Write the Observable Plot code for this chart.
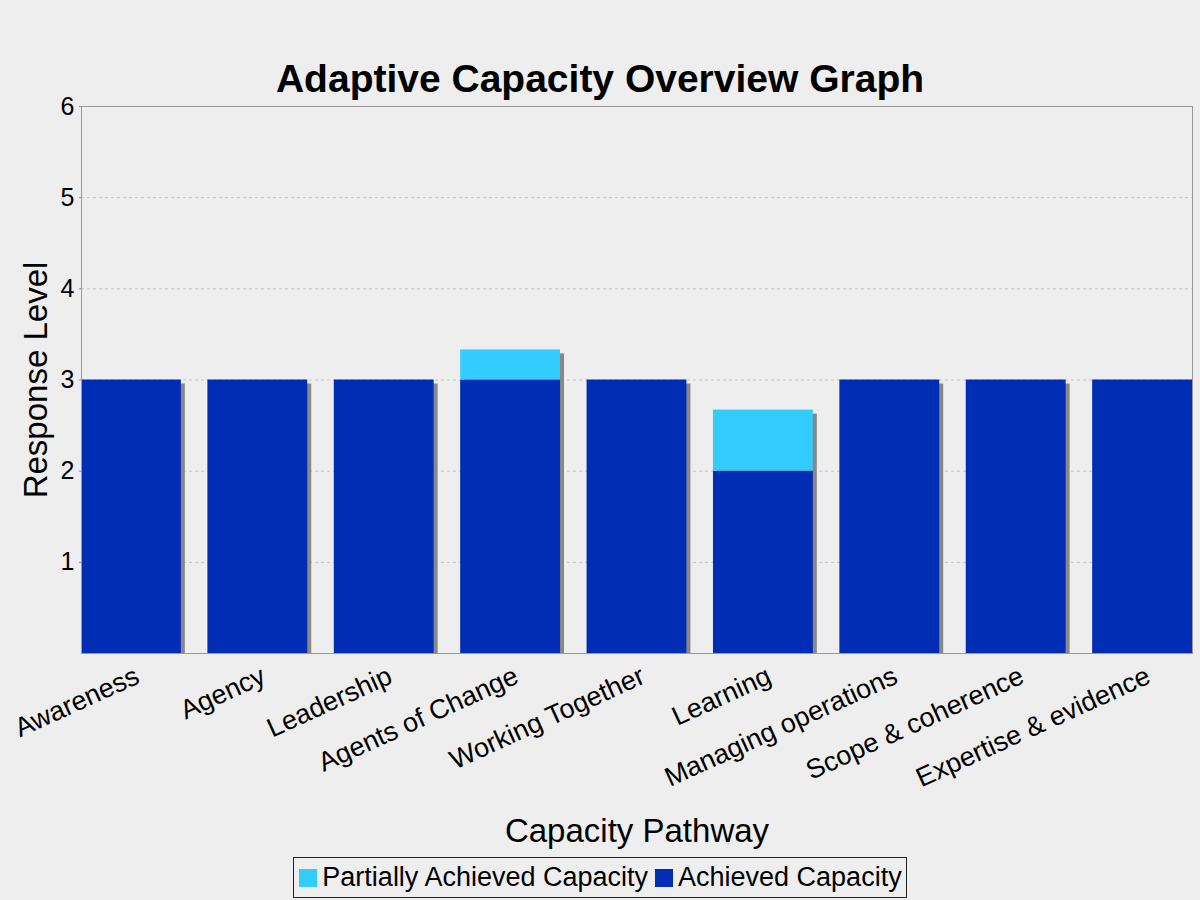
<!DOCTYPE html>
<html>
<head>
<meta charset="utf-8">
<script src="https://cdn.jsdelivr.net/npm/d3@7"></script>
<script src="https://cdn.jsdelivr.net/npm/@observablehq/plot@0.6"></script>
<style>
  html, body { margin: 0; padding: 0; background: #eeeeee; }
  body { font-family: "Liberation Sans", Arial, sans-serif; }
  #wrap { position: relative; width: 1200px; height: 900px; overflow: hidden; }
  #title { position: absolute; left: 0; top: 59px; width: 1200px; text-align: center; z-index: 2;
           font-weight: bold; font-size: 39px; line-height: 39px; color: #000; }
  #chart { position: absolute; left: 0; top: 90px; z-index: 1; }
  #legendRow { position: absolute; left: 0; top: 857px; width: 1200px; text-align: center; }
  #legend { display: inline-flex; align-items: center; border: 1px solid #222;
            height: 39px; padding: 0 4px 0 5px; font-size: 27px; color: #000; background: #eeeeee; }
  .item { display: inline-flex; align-items: center; white-space: nowrap; }
  .item + .item { margin-left: 7px; }
  .sw { display: inline-block; width: 18px; height: 18px; margin-right: 5px; }
</style>
</head>
<body>
<div id="wrap">
  <div id="title"></div>
  <div id="chart"></div>
  <div id="legendRow"><div id="legend"></div></div>
</div>
<script>
// ---- data ----
const titleText = "Adaptive Capacity Overview Graph";
const xLabel = "Capacity Pathway";
const yLabel = "Response Level";
const categories = ["Awareness", "Agency", "Leadership", "Agents of Change", "Working Together",
                    "Learning", "Managing operations", "Scope & coherence", "Expertise & evidence"];
const achieved = [3, 3, 3, 3, 3, 2, 3, 3, 3];
const partial  = [0, 0, 0, 0.33, 0, 0.67, 0, 0, 0];
const seriesNames = ["Partially Achieved Capacity", "Achieved Capacity"];
const seriesColors = ["#33ccff", "#002db4"];
const yTicks = [1, 2, 3, 4, 5, 6];
const gridTicks = [1, 2, 3, 4, 5];

// ---- tables ----
const rows = [];
categories.forEach((c, i) => rows.push({cat: c, series: seriesNames[1], value: achieved[i]}));
categories.forEach((c, i) => rows.push({cat: c, series: seriesNames[0], value: partial[i]}));
const totals = categories.map((c, i) => ({cat: c, total: achieved[i] + partial[i]}));

document.getElementById("title").textContent = titleText;

const chart = Plot.plot({
  width: 1200,
  height: 760,
  marginTop: 16,
  marginBottom: 197,
  marginLeft: 81,
  marginRight: 8,
  style: { fontFamily: "'Liberation Sans', Arial, sans-serif", background: "transparent", color: "#000" },
  x: { type: "band", domain: categories, paddingInner: 0.21, paddingOuter: 0, round: false, label: null },
  y: { domain: [0, 6], label: null },
  color: { domain: seriesNames, range: seriesColors },
  marks: [
    Plot.gridY(gridTicks, { stroke: "#c4c4c4", strokeOpacity: 1, strokeDasharray: "3,3" }),
    Plot.barY(totals, { x: "cat", y: "total", fill: "#888888", dx: 4, dy: 4, clip: true }),
    Plot.barY(rows, { x: "cat", y: "value", fill: "series" }),
    Plot.frame({ stroke: "#999999" }),
    Plot.axisY(yTicks, { tickSize: 2, tickPadding: 5, fontSize: 25, stroke: "#888888", tickFormat: d => String(d), label: null }),
    Plot.axisX({ tickRotate: -24.5, tickSize: 0, tickPadding: 21, dx: 6, fontSize: 27, label: null }),
    Plot.text([xLabel], { frameAnchor: "bottom", dy: 188, fontSize: 33, fill: "#000" }),
    Plot.text([yLabel], { frameAnchor: "left", textAnchor: "middle", rotate: -90, dx: -45, fontSize: 33, fill: "#000" })
  ]
});
document.getElementById("chart").appendChild(chart);

// ---- legend ----
const legend = document.getElementById("legend");
seriesNames.forEach((name, i) => {
  const item = document.createElement("span");
  item.className = "item";
  const sw = document.createElement("span");
  sw.className = "sw";
  sw.style.background = seriesColors[i];
  item.appendChild(sw);
  item.appendChild(document.createTextNode(name));
  legend.appendChild(item);
});
</script>
</body>
</html>
